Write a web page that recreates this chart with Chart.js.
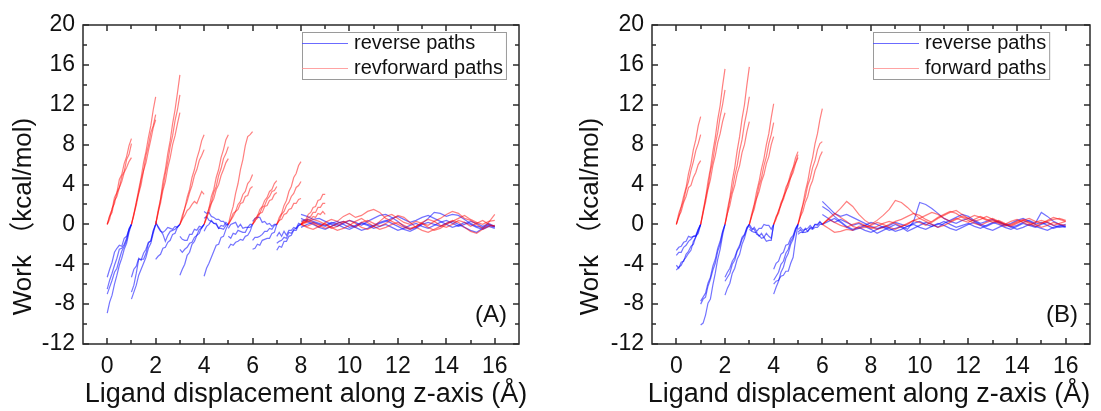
<!DOCTYPE html>
<html><head><meta charset="utf-8">
<script src="https://cdn.jsdelivr.net/npm/chart.js@4.4.1/dist/chart.umd.min.js"></script>
<style>
html,body{margin:0;padding:0;background:#fff;}
#wrap{position:relative;width:1101px;height:411px;overflow:hidden;background:#fff;}
.pane{position:absolute;top:0;height:411px;width:550px;}
</style></head><body>
<div id="wrap">
<div class="pane" style="left:0"><canvas id="cA" width="550" height="411"></canvas></div>
<div class="pane" style="left:551px"><canvas id="cB" width="550" height="411"></canvas></div>
</div>
<script>
// ---- axis ticks ----
const xMajor = [0,2,4,6,8,10,12,14,16];
const xMinor = [1,3,5,7,9,11,13,15];
const yMajor = [-12,-8,-4,0,4,8,12,16,20];
const yMinor = [-10,-6,-2,2,6,10,14,18];
const steepOffsets = [0,0.1,0.2,0.3,0.4,0.5,0.6,0.7,0.8,0.9,1.0];

// ---- panel A : forward (red) steep windows ----
const fwdA_start = [0,0,0,1,1,1,2,2,2,3,3,3,4,4,4,5,5,5,6,6,6,7,7,7,8,8,8];
const fwdA = [
 [0,0.9,1.5,2.7,3.2,4.5,5.0,6.1,6.8,7.9,8.6],
 [0,0.5,1.6,2.1,3.2,3.7,4.8,5.3,6.5,7.0,8.1],
 [0,0.8,1.2,2.4,2.8,3.7,4.3,5.2,5.7,6.3,6.7],
 [0,1.1,2.2,3.5,4.7,6.2,7.3,8.7,9.9,11.5,12.8],
 [0,0.9,2.2,3.2,4.5,5.4,6.9,7.9,9.2,9.9,11.0],
 [0,1.0,1.9,3.1,4.0,5.4,6.2,7.4,8.5,9.7,10.5],
 [0,1.4,2.5,4.3,5.5,7.1,8.4,10.1,11.5,13.2,15.0],
 [0,1.1,2.5,3.7,5.1,6.3,7.8,8.9,10.4,11.5,13.0],
 [0,1.2,2.1,3.4,4.3,5.7,6.7,8.0,8.9,10.1,11.2],
 [0,0.9,1.6,2.7,3.5,4.7,5.5,6.6,7.4,8.4,9.0],
 [0,0.6,1.6,2.3,3.2,3.9,4.9,5.5,6.4,6.9,7.5],
 [0,0.5,0.9,1.4,1.6,2.0,2.3,2.1,2.7,3.3,3.0],
 [0,0.9,1.6,2.8,3.5,4.7,5.5,6.7,7.5,8.5,9.0],
 [0,0.6,1.6,2.2,3.2,3.8,4.9,5.6,6.6,7.1,7.8],
 [0,0.7,1.2,2.1,2.6,3.5,4.0,4.9,5.5,6.2,6.6],
 [0,1.0,1.8,3.1,4.1,5.5,6.5,7.9,8.8,9.0,9.3],
 [0,0.5,1.1,1.3,2.0,2.3,3.0,3.3,4.1,4.4,5.0],
 [0,0.4,0.8,1.3,1.5,2.1,2.2,2.8,2.9,3.6,3.8],
 [0,0.6,0.8,1.5,1.8,2.4,2.7,3.3,3.5,4.1,4.4],
 [0,0.3,0.9,1.1,1.7,1.9,2.5,2.8,3.3,3.4,3.8],
 [0,0.4,0.6,1.1,1.2,1.8,1.9,2.4,2.5,3.0,3.2],
 [0,0.7,1.1,1.9,2.4,3.3,3.8,4.7,5.1,5.9,6.3],
 [0,0.4,1.0,1.3,1.9,2.2,2.8,3.1,3.7,3.9,4.3],
 [0,0.4,0.5,1.0,1.1,1.5,1.6,2.1,2.1,2.5,2.6],
 [0,0.4,0.5,1.0,1.2,1.7,1.8,2.4,2.5,3.0,3.0],
 [0,0.3,0.3,0.7,0.8,1.2,1.2,1.7,1.7,2.1,2.1],
 [0,0.2,0.2,0.5,0.5,0.8,0.7,1.1,1.0,1.3,1.0]
];
// ---- panel A : reverse (blue) steep windows ----
const revA_start = [0,0,0,0,1,1,1,2,2,2,3,3,3,4,4,4,4,5,5,5,6,6,6,7,7,7];
const revA = [
 [-8.9,-7.8,-7.1,-6.0,-5.1,-4.1,-3.4,-2.5,-1.9,-0.8,0],
 [-7.0,-6.3,-5.6,-4.8,-4.4,-3.5,-2.7,-2.2,-1.6,-0.6,0],
 [-5.3,-4.5,-3.8,-2.8,-2.4,-2.1,-2.2,-1.4,-1.2,-0.5,0],
 [-6.5,-5.6,-4.9,-4.1,-3.4,-2.5,-2.4,-2.0,-1.4,-0.4,0],
 [-7.5,-6.8,-6.1,-5.1,-4.5,-3.9,-3.3,-2.4,-1.9,-0.9,0],
 [-6.8,-6.1,-4.9,-3.5,-3.5,-3.5,-2.9,-1.9,-1.6,-0.7,0],
 [-5.3,-4.5,-4.2,-3.4,-3.6,-2.9,-2.5,-1.8,-1.7,-0.6,0],
 [0.3,-0.3,-0.7,-0.8,-0.6,-0.3,-0.4,-0.5,-0.2,-0.3,0],
 [0.1,-0.2,-0.6,-1.0,-1.7,-1.1,-0.7,-0.6,-0.5,-0.2,0],
 [-3.5,-3.2,-3.0,-2.4,-2.3,-1.8,-1.6,-1.0,-0.9,-0.3,0],
 [-1.2,-1.5,-1.6,-1.6,-1.0,-1.0,-0.5,-0.6,-0.2,-0.3,0],
 [-2.5,-2.8,-2.5,-2.3,-1.9,-1.8,-1.3,-1.1,-0.5,-0.4,0],
 [-5.1,-4.5,-4.0,-3.1,-2.8,-2.0,-1.7,-1.1,-0.9,-0.3,0],
 [1.3,1.1,1.2,0.8,0.7,0.5,0.5,0.3,0.3,0.0,0],
 [0.6,0.8,0.4,0.3,0.1,0.1,-0.4,-0.1,-0.2,0.2,0],
 [-5.2,-4.4,-3.9,-3.3,-2.7,-2.1,-2.0,-1.3,-1.2,-0.5,0],
 [-0.7,-0.2,0.0,0.4,0.1,0.0,-0.4,-0.4,-0.5,-0.1,0],
 [-0.4,0.0,0.1,0.2,-0.3,0.0,-0.4,-0.3,-0.3,0.0,0],
 [-1.2,-1.4,-0.9,-1.0,-0.6,-0.7,-0.8,-0.8,-0.3,-0.3,0],
 [-2.4,-2.0,-2.1,-1.8,-1.7,-1.5,-1.6,-1.2,-1.1,-0.7,0],
 [0.3,0.6,0.7,0.7,0.2,0.3,0.0,0.1,-0.2,0.0,0],
 [-1.6,-1.3,-1.3,-1.2,-1.0,-0.7,-0.7,-0.4,-0.5,-0.1,0],
 [-2.5,-2.4,-2.0,-2.1,-1.6,-1.5,-1.4,-1.4,-0.9,-0.8,0],
 [-1.2,-0.8,-1.2,-0.7,-1.1,-0.6,-0.6,-0.3,-0.4,0.1,0],
 [-1.9,-1.7,-1.6,-1.3,-1.4,-0.8,-0.9,-0.5,-0.4,-0.1,0],
 [-2.6,-2.2,-2.3,-1.7,-1.7,-1.2,-1.1,-0.6,-0.6,-0.1,0]
];
// ---- panel A : plateau region ----
const flatA_x = [8,8.25,8.5,8.75,9,9.25,9.5,9.75,10,10.25,10.5,10.75,11,11.25,11.5,11.75,12,12.25,12.5,12.75,13,13.25,13.5,13.75,14,14.25,14.5,14.75,15,15.25,15.5,15.75,16];
const flatFwdA = [
 [0,-0.2,0.1,-0.3,0.2,0.5,0.3,0.8,1.1,0.7,0.9,1.3,1.5,1.2,0.6,0.3,0.0,-0.3,-0.5,-0.2,0.1,-0.1,0.3,0.6,1.0,1.3,1.1,0.6,0.4,0.0,-0.4,0.2,1.0],
 [0,0.4,0.2,-0.1,-0.4,-0.2,0.1,0.3,0.0,-0.3,0.2,0.4,0.1,-0.2,0.1,0.5,0.9,0.7,0.2,-0.3,-0.6,-0.8,-0.5,-0.2,0.1,0.4,0.2,-0.3,-0.7,-0.9,-0.5,-0.2,-0.1],
 [0,-0.3,-0.5,-0.2,0.1,-0.3,-0.6,-0.4,-0.1,0.3,0.6,0.2,-0.2,-0.5,-0.3,0.0,0.2,-0.1,-0.4,-0.2,0.2,0.5,0.3,-0.1,-0.3,0.0,0.4,0.2,-0.2,0.1,0.4,0.0,-0.2],
 [0,0.2,0.5,0.3,0.0,-0.4,-0.2,0.2,0.4,0.1,-0.3,-0.5,-0.2,0.3,0.8,1.0,0.6,0.2,0.0,0.3,0.1,-0.3,-0.6,-0.4,0.0,0.3,0.6,0.9,0.5,0.2,0.0,0.3,0.4]
];
const flatRevA = [
 [1.0,0.8,0.5,0.6,0.3,0.0,-0.2,0.1,0.4,0.2,-0.1,0.3,0.6,0.9,1.0,0.7,0.3,-0.2,-0.5,-0.3,0.1,0.6,1.2,1.1,0.8,1.0,0.9,0.5,0.1,-0.2,-0.3,0.0,-0.3],
 [0.6,0.3,0.0,-0.3,-0.5,-0.2,0.1,0.3,0.0,-0.3,-0.6,-0.4,-0.1,0.2,0.4,0.1,-0.2,-0.5,-0.7,-0.4,0.0,0.2,0.0,-0.2,0.1,0.3,0.0,-0.3,-0.6,-0.8,-0.4,-0.1,-0.2],
 [-0.3,0.0,0.2,0.0,-0.2,0.1,0.3,0.0,-0.3,-0.1,0.2,0.0,-0.2,0.1,0.3,0.6,0.8,0.5,0.2,0.4,0.7,0.9,0.6,0.3,0.0,-0.3,-0.1,0.2,0.0,-0.3,-0.5,-0.2,-0.4],
 [0.3,0.5,0.3,0.1,-0.1,0.2,0.0,-0.3,-0.5,-0.2,0.1,-0.1,-0.4,-0.2,0.0,-0.3,-0.6,-0.4,-0.1,0.1,-0.2,-0.4,-0.1,0.2,0.4,0.1,-0.2,0.0,0.3,0.1,-0.2,0.1,-0.2]
];

// ---- panel B : forward (red) steep windows ----
const fwdB_start = [0,0,0,1,1,1,2,2,2,3,3,3,4,4,4,5,5,5];
const fwdB = [
 [0,1.1,1.8,2.8,3.7,5.1,6.1,7.5,8.5,9.9,10.8],
 [0,0.7,1.7,2.4,3.5,4.3,5.4,6.3,7.4,8.1,9.0],
 [0,0.8,1.3,2.2,2.8,3.7,3.9,4.7,5.2,6.0,6.4],
 [0,1.4,2.6,4.3,5.6,7.3,8.7,10.5,11.9,13.9,15.6],
 [0,1.1,2.6,3.7,5.3,6.4,8.0,9.2,10.8,12.0,13.5],
 [0,1.2,2.2,3.5,4.5,5.9,6.9,8.2,9.1,10.3,11.2],
 [0,1.5,2.7,4.4,5.7,7.4,8.8,10.6,12.0,14.0,15.8],
 [0,1.1,2.5,3.5,4.9,5.9,7.4,8.5,10.1,11.3,12.8],
 [0,1.1,1.9,3.1,3.9,5.1,5.9,7.2,8.0,9.3,10.3],
 [0,1.1,2.0,3.3,4.3,5.6,6.6,8.0,9.1,10.7,12.1],
 [0,0.8,1.9,2.7,3.9,4.7,5.9,6.8,8.1,9.0,10.2],
 [0,0.9,1.5,2.6,3.3,4.3,5.0,6.1,6.8,8.0,8.8],
 [0,0.8,1.3,2.2,2.7,3.7,4.2,5.1,5.7,6.7,7.3],
 [0,0.5,1.4,1.9,2.8,3.3,4.2,4.7,5.6,6.2,7.0],
 [0,0.7,1.1,2.0,2.5,3.3,3.8,4.7,5.2,6.1,6.7],
 [0,1.1,2.0,3.3,4.3,5.7,6.7,8.1,9.1,10.5,11.6],
 [0,0.8,1.9,2.7,3.9,4.6,5.7,6.4,7.5,8.1,8.3],
 [0,0.8,1.3,2.2,2.8,3.8,4.4,5.4,6.0,6.8,7.3]
];
// ---- panel B : reverse (blue) steep windows ----
const revB_start = [0,0,0,0,1,1,1,2,2,2,3,3,3,4,4,4,4,5,5,5];
const revB = [
 [-2.6,-2.3,-2.2,-1.8,-1.7,-1.2,-1.3,-1.2,-1.2,-0.7,0],
 [-3.1,-2.8,-2.8,-2.3,-2.1,-1.7,-1.5,-1.2,-1.1,-0.5,0],
 [-4.1,-4.4,-3.8,-3.7,-3.0,-2.7,-2.2,-2.0,-1.2,-0.9,0],
 [-4.6,-4.3,-4.1,-3.6,-3.3,-2.9,-2.6,-1.7,-1.3,-0.5,0],
 [-7.7,-7.3,-6.9,-5.9,-5.3,-4.2,-3.5,-2.4,-1.7,-0.7,0],
 [-8.0,-7.5,-7.3,-6.2,-5.5,-4.6,-3.9,-2.7,-2.0,-0.8,0],
 [-10.1,-9.9,-9.1,-7.9,-7.5,-6.1,-4.9,-3.5,-2.5,-1.1,0],
 [-5.3,-4.8,-4.4,-3.7,-3.3,-2.6,-2.1,-1.3,-1.0,-0.3,0],
 [-5.7,-5.3,-4.9,-4.0,-3.6,-2.7,-2.3,-1.5,-1.1,-0.4,0],
 [-7.1,-6.4,-5.9,-4.9,-4.4,-3.5,-3.0,-2.0,-1.4,-0.5,0],
 [-0.2,-0.6,-0.3,-0.7,-0.4,-0.4,0.0,-0.1,-0.1,-0.5,0],
 [-0.5,-0.7,-0.8,-0.8,-1.2,-0.9,-1.3,-0.9,-1.2,-1.4,0],
 [0.0,-0.4,-0.5,-1.0,-1.1,-1.4,-1.3,-1.7,-1.6,-1.6,0],
 [-4.5,-3.9,-3.7,-3.0,-2.8,-2.1,-2.0,-1.4,-1.1,-0.4,0],
 [-5.6,-5.2,-4.8,-4.0,-3.7,-2.9,-2.5,-1.7,-1.3,-0.5,0],
 [-7.0,-6.3,-5.7,-4.8,-4.3,-3.4,-2.9,-2.0,-1.5,-0.6,0],
 [-6.0,-5.7,-5.6,-5.2,-5.1,-4.7,-4.7,-3.9,-3.3,-1.5,0],
 [-1.0,-0.8,-0.8,-0.8,-0.7,-0.4,-0.5,-0.3,-0.3,0.0,0],
 [-0.8,-0.5,-0.8,-0.4,-0.7,-0.3,-0.4,0.0,-0.1,0.2,0],
 [-0.5,-0.3,-0.6,-0.5,-0.4,-0.1,-0.4,0.0,0.0,0.3,0]
];
// ---- panel B : plateau region ----
const flatB_x = [6,6.25,6.5,6.75,7,7.25,7.5,7.75,8,8.25,8.5,8.75,9,9.25,9.5,9.75,10,10.25,10.5,10.75,11,11.25,11.5,11.75,12,12.25,12.5,12.75,13,13.25,13.5,13.75,14,14.25,14.5,14.75,15,15.25,15.5,15.75,16];
const flatFwdB = [
 [0,0.5,1.0,1.6,2.3,1.8,1.0,0.4,0.0,0.4,0.9,1.5,2.4,2.2,1.7,1.1,0.6,0.9,1.2,1.0,0.6,0.3,0.6,0.4,0.2,0.5,0.8,0.5,0.2,0.4,0.1,-0.1,0.2,0.4,0.1,-0.2,0.1,0.3,0.5,0.6,0.4],
 [0,-0.4,-0.8,-0.7,-0.5,-0.6,-0.2,-0.1,-0.3,-0.5,-0.3,0.0,0.3,0.5,0.8,1.1,0.9,0.5,0.2,0.6,0.9,1.2,1.4,1.0,0.6,0.3,0.5,0.8,0.5,0.2,0.0,0.3,0.5,0.2,-0.1,0.2,0.4,0.2,-0.1,0.1,0.3],
 [0,0.6,1.1,0.7,0.3,-0.2,-0.4,-0.3,-0.1,0.2,0.0,-0.3,-0.5,-0.2,0.1,0.4,0.2,-0.1,0.3,0.7,1.0,1.3,1.1,0.7,0.4,0.1,-0.1,0.2,0.4,0.1,-0.2,0.0,0.3,0.5,0.2,0.0,-0.3,-0.1,0.2,0.0,-0.1],
 [0,0.5,0.2,-0.1,-0.3,0.0,0.2,-0.1,-0.4,-0.2,0.1,0.3,0.1,-0.2,0.0,0.4,0.6,0.3,0.0,-0.3,-0.1,0.2,0.5,0.8,0.6,0.9,0.7,0.4,0.6,0.3,0.0,-0.2,0.1,0.4,0.6,0.3,0.1,0.4,0.7,0.5,0.3]
];
const flatRevB = [
 [2.3,1.7,1.1,0.8,1.0,0.7,0.4,0.1,-0.2,-0.4,-0.3,-0.6,-0.4,-0.2,-0.5,0.3,2.2,2.0,1.6,1.1,0.6,0.3,0.1,0.4,0.6,0.3,0.0,-0.2,0.1,0.3,0.0,-0.3,-0.1,0.2,0.4,0.1,1.2,0.8,0.3,0.0,-0.2],
 [1.8,1.4,0.8,0.3,-0.2,-0.5,-0.3,-0.6,-0.8,-0.5,-0.2,-0.4,-0.7,-0.5,-0.2,0.0,-0.3,-0.5,-0.2,0.1,-0.1,-0.4,-0.6,-0.3,0.0,0.2,-0.1,-0.4,-0.6,-0.3,0.0,-0.2,-0.5,-0.3,0.0,-0.2,-0.4,-0.6,-0.3,-0.1,-0.3],
 [1.0,0.6,0.2,0.5,0.2,-0.1,0.1,-0.2,-0.5,-0.9,-0.6,-0.3,0.0,-0.3,-0.7,-0.4,-0.1,0.2,0.0,-0.3,0.1,0.4,0.7,1.0,0.8,0.4,0.1,0.3,0.5,0.2,-0.1,0.1,0.4,0.6,0.3,0.0,0.2,-0.1,-0.4,-0.2,0.0],
 [0.0,0.3,0.6,0.2,-0.3,-0.6,-0.4,-0.1,0.2,0.0,-0.3,-0.1,0.2,0.0,-0.2,0.1,0.3,0.0,-0.2,0.0,0.3,0.0,-0.3,-0.1,0.1,-0.2,-0.4,-0.1,0.2,0.0,-0.3,-0.5,-0.2,0.1,-0.1,-0.3,0.0,0.2,-0.1,-0.3,-0.2]
];

const legendA = ['reverse paths','revforward paths'];
const legendB = ['reverse paths','forward paths'];
const xTitle = 'Ligand displacement along z-axis (\u00C5)';
const yTitle = 'Work \uFF08kcal/mol)';

// ---- styles ----
const FONT = "'Liberation Sans', Arial, Helvetica, 'Noto Sans CJK SC', sans-serif";
const RED = 'rgba(255,0,0,0.5)';
const BLUE = 'rgba(0,0,255,0.55)';

function lineDs(points, color){
  return {data: points, borderColor: color, borderWidth: 1.2, pointRadius: 0, tension: 0, fill: false};
}
function steepSets(starts, rows, color){
  return rows.map((row,k) => lineDs(row.map((y,j) => ({x: starts[k] + steepOffsets[j], y: y})), color));
}
function flatSets(xs, rows, color){
  return rows.map(row => lineDs(row.map((y,j) => ({x: xs[j], y: y})), color));
}

const overlay = {
  id: 'overlay',
  afterDraw(chart, args, o){
    const ctx = chart.ctx;
    const {left, right, top, bottom} = chart.chartArea;
    const xs = chart.scales.x, ys = chart.scales.y;
    ctx.save();
    ctx.strokeStyle = '#2a2a2a';
    ctx.lineWidth = 1.5;
    ctx.strokeRect(left, top, right-left, bottom-top);
    const seg = (x1,y1,x2,y2) => { ctx.beginPath(); ctx.moveTo(x1,y1); ctx.lineTo(x2,y2); ctx.stroke(); };
    xMajor.forEach(v => { const p = Math.round(xs.getPixelForValue(v)); seg(p,bottom,p,bottom-6); seg(p,top,p,top+6); });
    xMinor.forEach(v => { const p = Math.round(xs.getPixelForValue(v)); seg(p,bottom,p,bottom-4); seg(p,top,p,top+4); });
    yMajor.forEach(v => { const p = Math.round(ys.getPixelForValue(v)); seg(left,p,left+6,p); seg(right,p,right-6,p); });
    yMinor.forEach(v => { const p = Math.round(ys.getPixelForValue(v)); seg(left,p,left+4,p); seg(right,p,right-4,p); });

    // legend
    ctx.font = '20px ' + FONT;
    const tw = Math.max(ctx.measureText(o.labels[0]).width, ctx.measureText(o.labels[1]).width);
    const bx = right - 217, by = top + 7;
    const bw = 52 + tw + 3, bh = 47;
    ctx.strokeStyle = '#9a9a9a'; ctx.lineWidth = 1;
    ctx.strokeRect(bx + 0.5, by + 0.5, bw, bh);
    const cols = ['rgba(70,70,255,0.8)', 'rgba(255,140,140,0.8)'];
    [0,1].forEach(i => {
      const ly = by + 11.5 + i*25;
      ctx.strokeStyle = cols[i]; ctx.lineWidth = 1;
      seg(bx, ly, bx + 46, ly);
      ctx.fillStyle = '#111'; ctx.textAlign = 'left'; ctx.textBaseline = 'middle';
      ctx.fillText(o.labels[i], bx + 52, ly);
    });

    // panel tag
    ctx.font = '24px ' + FONT;
    ctx.fillStyle = '#111'; ctx.textAlign = 'center'; ctx.textBaseline = 'middle';
    ctx.fillText(o.tag, right - 28, bottom - 29);

    // axis titles
    ctx.font = '27px ' + FONT;
    ctx.fillText(xTitle, (left + right)/2 + o.xtOff, 395);
    ctx.font = '26px ' + FONT;
    ctx.translate(left - o.ytOff, (top + bottom)/2 + 32);
    ctx.rotate(-Math.PI/2);
    ctx.fillText(yTitle, 0, 0);
    ctx.restore();
  }
};

function makeChart(id, cfg){
  const datasets = [].concat(
    steepSets(cfg.fwdStart, cfg.fwd, RED),
    steepSets(cfg.revStart, cfg.rev, BLUE),
    flatSets(cfg.flatX, cfg.flatFwd, RED),
    flatSets(cfg.flatX, cfg.flatRev, BLUE)
  );
  return new Chart(document.getElementById(id), {
    type: 'line',
    data: { datasets },
    options: {
      responsive: false,
      animation: false,
      layout: { padding: { left: 0, right: cfg.padRight, top: 25, bottom: 0 } },
      plugins: { legend: { display: false }, tooltip: { enabled: false },
                 overlay: { labels: cfg.labels, tag: cfg.tag, ytOff: cfg.ytOff, xtOff: cfg.xtOff } },
      scales: {
        x: {
          type: 'linear', min: -1, max: 17,
          afterBuildTicks: s => { s.ticks = xMajor.map(v => ({value: v})); },
          afterFit: s => { s.height = 67; },
          grid: { display: false, drawTicks: false },
          border: { display: false },
          ticks: { autoSkip: false, maxRotation: 0, padding: 9, color: '#111', font: { size: 23, family: FONT } }
        },
        y: {
          type: 'linear', min: -12, max: 20,
          afterBuildTicks: s => { s.ticks = yMajor.map(v => ({value: v})); },
          afterFit: s => { s.width = cfg.yWidth; },
          grid: { display: false, drawTicks: false },
          border: { display: false },
          ticks: { padding: 8, color: '#111', font: { size: 23, family: FONT } }
        }
      }
    },
    plugins: [overlay]
  });
}

makeChart('cA', { fwdStart: fwdA_start, fwd: fwdA, revStart: revA_start, rev: revA,
  flatX: flatA_x, flatFwd: flatFwdA, flatRev: flatRevA, labels: legendA, tag: '(A)',
  padRight: 31, yWidth: 83, ytOff: 59, xtOff: 5 });
makeChart('cB', { fwdStart: fwdB_start, fwd: fwdB, revStart: revB_start, rev: revB,
  flatX: flatB_x, flatFwd: flatFwdB, flatRev: flatRevB, labels: legendB, tag: '(B)',
  padRight: 11, yWidth: 101, ytOff: 61, xtOff: -2 });
</script>
</body></html>
